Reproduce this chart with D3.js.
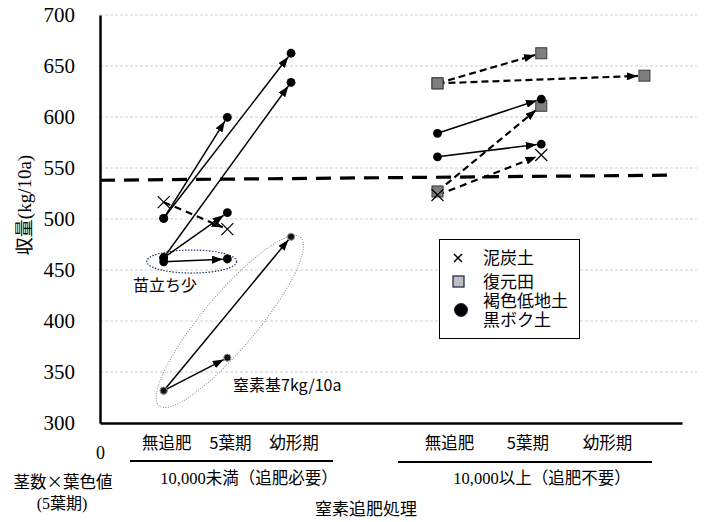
<!DOCTYPE html>
<html>
<head>
<meta charset="utf-8">
<script src="https://cdn.jsdelivr.net/npm/d3@7.9.0/dist/d3.min.js"></script>
<style>
  body { margin: 0; background: #fff; }
  svg { display: block; }
  .cjk { font-family: "Noto Sans CJK JP", sans-serif; }
  .serif { font-family: "Liberation Serif", "Noto Sans CJK JP", serif; }
</style>
</head>
<body>
<svg id="chart" width="706" height="522"></svg>
<script>
const yTicks = [300, 350, 400, 450, 500, 550, 600, 650, 700];
const leftCats = ['無追肥', '5葉期', '幼形期'];
const rightCats = ['無追肥', '5葉期', '幼形期'];
const leftX = [1, 2, 3];
const rightX = [5.3, 6.93, 8.55];
const rightLabelX = [5.49, 6.72, 7.97];
const groupLabels = ['10,000未満（追肥必要）', '10,000以上（追肥不要）'];

// arrows: [fromX, fromYield, toX, toYield]
const peatArrows = [[1, 516.5, 2, 490], [5.3, 523.5, 6.93, 562.7]];
const restoredArrows = [[5.3, 633, 6.93, 662.5], [5.3, 633, 8.55, 640.5], [5.3, 527, 6.93, 611]];
const lowlandArrows = [
  [1, 500.7, 2, 599.7], [1, 500.7, 3, 662.5], [1, 462, 3, 634], [1, 462, 2, 506.2],
  [1, 458, 2, 460.8], [5.3, 584, 6.93, 617.6], [5.3, 561, 6.93, 573.5]
];
const n7Arrows = [[1, 331.7, 2, 364], [1, 331.7, 3, 482.6]];
const refLine = [[0, 538], [8.98, 543]];

const svg = d3.select('#chart');
const x = d3.scaleLinear().domain([0, 9.14]).range([100, 682]);
const y = d3.scaleLinear().domain([300, 700]).range([423, 15]);

const defs = svg.append('defs');
defs.append('marker')
  .attr('id', 'ah')
  .attr('viewBox', '0 0 11 8')
  .attr('refX', 11).attr('refY', 4)
  .attr('markerUnits', 'userSpaceOnUse')
  .attr('markerWidth', 11).attr('markerHeight', 8)
  .attr('orient', 'auto')
  .append('path').attr('d', 'M0,0L11,4L0,8Z').attr('fill', '#000');

// grid
svg.append('g').selectAll('line')
  .data(yTicks.filter(d => d > 300))
  .enter().append('line')
  .attr('x1', 100).attr('x2', 697)
  .attr('y1', d => y(d)).attr('y2', d => y(d))
  .attr('stroke', '#cfcfcf').attr('stroke-dasharray', '3,2');

// 540 line
svg.append('path')
  .attr('d', d3.line().x(d => x(d[0])).y(d => y(d[1]))(refLine))
  .attr('stroke', '#000').attr('stroke-width', 3.2)
  .attr('stroke-dasharray', '15,9').attr('fill', 'none');

// ellipses
svg.append('ellipse')
  .attr('cx', x(1.44)).attr('cy', y(458.3))
  .attr('rx', 45).attr('ry', 11.5)
  .attr('fill', 'none').attr('stroke', '#1f3864')
  .attr('stroke-width', 1.2).attr('stroke-dasharray', '1.5,1.5');
svg.append('ellipse')
  .attr('transform', `translate(${x(2.04)},${y(399.5)}) rotate(-50)`)
  .attr('rx', 110).attr('ry', 27)
  .attr('fill', 'none').attr('stroke', '#8a8a8a')
  .attr('stroke-width', 1).attr('stroke-dasharray', '1,1.5');

function drawArrows(data, gap, width, dash) {
  svg.append('g').selectAll('line')
    .data(data)
    .enter().append('line')
    .each(function (a) {
      const x1 = x(a[0]), y1 = y(a[1]), x2 = x(a[2]), y2 = y(a[3]);
      const len = Math.hypot(x2 - x1, y2 - y1);
      d3.select(this)
        .attr('x1', x1).attr('y1', y1)
        .attr('x2', x2 - (x2 - x1) / len * gap)
        .attr('y2', y2 - (y2 - y1) / len * gap);
    })
    .attr('stroke', '#000').attr('stroke-width', width)
    .attr('stroke-dasharray', dash)
    .attr('marker-end', 'url(#ah)');
}

drawArrows(lowlandArrows, 4.5, 1.5, null);
drawArrows(n7Arrows, 4, 1.5, null);
drawArrows(restoredArrows, 6.5, 2.2, '7,4');
drawArrows(peatArrows, 5, 2.2, '7,5');

function ends(data) {
  return data.flatMap(a => [[a[0], a[1]], [a[2], a[3]]]);
}

svg.append('g').selectAll('rect')
  .data(ends(restoredArrows))
  .enter().append('rect')
  .attr('x', d => x(d[0]) - 5.5).attr('y', d => y(d[1]) - 5.5)
  .attr('width', 11).attr('height', 11)
  .attr('fill', '#7f7f7f').attr('stroke', '#3a3a3a').attr('stroke-width', 1);

svg.append('g').selectAll('circle')
  .data(ends(lowlandArrows))
  .enter().append('circle')
  .attr('cx', d => x(d[0])).attr('cy', d => y(d[1])).attr('r', 4.4)
  .attr('fill', '#000');

svg.append('g').selectAll('circle')
  .data(ends(n7Arrows))
  .enter().append('circle')
  .attr('cx', d => x(d[0])).attr('cy', d => y(d[1])).attr('r', 3.6)
  .attr('fill', '#111').attr('stroke', '#999').attr('stroke-width', 1);

svg.append('g').selectAll('path')
  .data(ends(peatArrows))
  .enter().append('path')
  .attr('d', d => {
    const cx = x(d[0]), cy = y(d[1]), s = 6;
    return `M${cx - s},${cy - s}L${cx + s},${cy + s}M${cx - s},${cy + s}L${cx + s},${cy - s}`;
  })
  .attr('stroke', '#000').attr('stroke-width', 1.2);

// axes
const yAxis = svg.append('g').attr('transform', 'translate(100,0)')
  .call(d3.axisLeft(y).tickValues(yTicks).tickSize(0).tickPadding(25).tickSizeOuter(0));
yAxis.select('.domain').attr('stroke', '#000').attr('stroke-width', 2.5);
yAxis.selectAll('text').attr('class', 'serif').attr('font-size', 21).attr('fill', '#000');

const xAxis = svg.append('g').attr('transform', 'translate(0,423)')
  .call(d3.axisBottom(x).tickValues([0]).tickSize(0).tickPadding(23).tickSizeOuter(0));
xAxis.select('.domain').attr('stroke', '#000').attr('stroke-width', 2.5);
xAxis.selectAll('text').attr('class', 'serif').attr('font-size', 18).attr('fill', '#000');

// y label
const yl = svg.append('text')
  .attr('transform', 'translate(31,205) rotate(-90)')
  .attr('text-anchor', 'middle').attr('font-size', 18);
yl.append('tspan').attr('class', 'cjk').text('収量');
yl.append('tspan').attr('class', 'serif').attr('font-size', 19).text('(kg/10a)');

// category labels
svg.append('g').selectAll('text')
  .data(leftCats)
  .enter().append('text')
  .attr('class', 'cjk').attr('font-size', 16.5)
  .attr('x', (d, i) => x(leftX[i]) + 3).attr('y', 443).attr('dy', '0.35em')
  .attr('text-anchor', 'middle').text(d => d);
svg.append('g').selectAll('text')
  .data(rightCats)
  .enter().append('text')
  .attr('class', 'cjk').attr('font-size', 16.5)
  .attr('x', (d, i) => x(rightLabelX[i])).attr('y', 443).attr('dy', '0.35em')
  .attr('text-anchor', 'middle').text(d => d);

svg.append('line').attr('x1', 130).attr('x2', 333).attr('y1', 461).attr('y2', 461)
  .attr('stroke', '#000').attr('stroke-width', 2);
svg.append('line').attr('x1', 398).attr('x2', 652).attr('y1', 462).attr('y2', 462)
  .attr('stroke', '#000').attr('stroke-width', 2);

svg.append('g').selectAll('text')
  .data(groupLabels)
  .enter().append('text')
  .attr('class', 'serif').attr('font-size', 16.5)
  .attr('x', (d, i) => [249, 542][i]).attr('y', 478).attr('dy', '0.35em')
  .attr('text-anchor', 'middle').text(d => d);

svg.append('text').attr('class', 'cjk').attr('font-size', 16.5)
  .attr('x', 63).attr('y', 482).attr('dy', '0.35em').attr('text-anchor', 'middle')
  .text('茎数×葉色値');
svg.append('text').attr('class', 'serif').attr('font-size', 16)
  .attr('x', 62).attr('y', 503).attr('dy', '0.35em').attr('text-anchor', 'middle')
  .text('(5葉期)');
svg.append('text').attr('class', 'cjk').attr('font-size', 17)
  .attr('x', 366).attr('y', 509).attr('dy', '0.35em').attr('text-anchor', 'middle')
  .text('窒素追肥処理');

// annotations
svg.append('text').attr('class', 'cjk').attr('font-size', 16)
  .attr('x', 133).attr('y', 285).attr('dy', '0.35em').text('苗立ち少');
svg.append('text').attr('class', 'cjk').attr('font-size', 16)
  .attr('x', 233).attr('y', 385).attr('dy', '0.35em').text('窒素基7kg/10a');

// legend
const lg = svg.append('g');
lg.append('rect').attr('x', 439.5).attr('y', 239.5).attr('width', 140).attr('height', 99)
  .attr('fill', '#fff').attr('stroke', '#000').attr('stroke-width', 1);
lg.append('path')
  .attr('d', 'M454,254L462,262M454,262L462,254')
  .attr('stroke', '#000').attr('stroke-width', 1.5);
lg.append('rect').attr('x', 453).attr('y', 276).attr('width', 11).attr('height', 11)
  .attr('fill', '#bdbdbd').attr('stroke', '#1f2d50').attr('stroke-width', 1.3);
lg.append('circle').attr('cx', 461).attr('cy', 310).attr('r', 6.5)
  .attr('fill', '#000').attr('stroke', '#1f2d50').attr('stroke-width', 1);
const legendText = [['泥炭土'], ['復元田'], ['褐色低地土', '黒ボク土']];
const legendY = [258, 282, 301];
lg.selectAll('text.lt')
  .data(legendText)
  .enter().append('text')
  .attr('class', 'cjk').attr('font-size', 17)
  .attr('x', 483).attr('y', (d, i) => legendY[i])
  .each(function (d) {
    d3.select(this).selectAll('tspan')
      .data(d)
      .enter().append('tspan')
      .attr('x', 483)
      .attr('dy', (t, j) => j === 0 ? '0.35em' : 19)
      .text(t => t);
  });
</script>
</body>
</html>
